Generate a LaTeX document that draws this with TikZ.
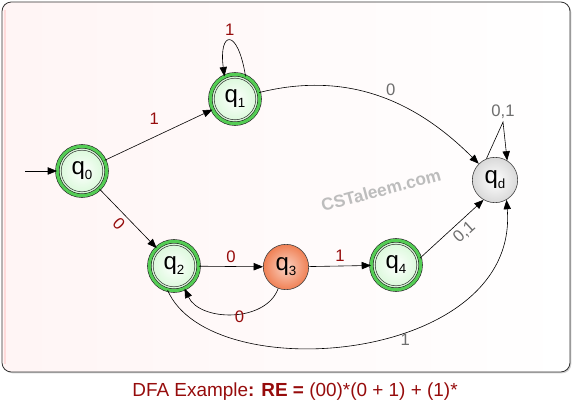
\documentclass[tikz,border=0pt]{standalone}
\usepackage{fontspec}
\setmainfont{Liberation Sans}
\usetikzlibrary{arrows.meta,shadows}

\definecolor{ringgreen}{RGB}{84,204,84}
\definecolor{fillgreen}{RGB}{214,248,214}
\definecolor{lblred}{RGB}{150,12,12}
\definecolor{lblgray}{RGB}{110,110,110}
\definecolor{deadorange}{RGB}{240,128,84}

\newcommand{\qname}[2]{q\raisebox{-0.35ex}{\fontsize{#2}{#2}\selectfont #1}}

\tikzset{
    accept/.style={circle, minimum size=37pt, inner sep=0pt,
        draw=black!85, line width=0.45pt, double=ringgreen, double distance=2.3pt,
        inner color=white, outer color=fillgreen,
        path picture={\draw[black!80, line width=0.4pt] (path picture bounding box.center) circle (15.6pt);}},
    plain/.style={circle, minimum size=34pt, inner sep=0pt, draw=black!75, line width=0.45pt,
        inner color=deadorange!35, outer color=deadorange},
    trap/.style={circle, minimum size=34pt, inner sep=0pt, draw=black!75, line width=0.45pt,
        inner color=white, outer color=black!15},
    lbl/.style={font=\fontsize{12.5}{12.5}\selectfont, text=lblred, inner sep=1pt},
    glbl/.style={font=\fontsize{12.5}{12.5}\selectfont, text=lblgray, inner sep=1pt},
    trans/.style={-{Triangle[length=7pt,width=5.5pt]}, line width=0.45pt}
}

\begin{document}
\begin{tikzpicture}[x=0.75pt,y=0.75pt, font=\fontsize{18}{18}\selectfont]
    \useasboundingbox (0,0) rectangle (573,409);

    % frame
    \draw[draw=black!80, line width=0.6pt, rounded corners=7, left color=red!4, right color=white,
        drop shadow={shadow xshift=1pt, shadow yshift=-1pt, opacity=0.35}] (2,37) rectangle (570,407);
    \fill[red!14] (3.5,45) rectangle (5.5,399);

    % watermark
    \node[rotate=15, text=black!26, font=\fontsize{13}{13}\selectfont\bfseries] (mark) at (381,219) {CSTaleem.com};

    % states
    \node[accept] (q0) at (82,238) {\qname{0}{10}};
    \node[accept] (q1) at (235,310) {\qname{1}{10}};
    \node[accept] (q2) at (174,143) {\qname{2}{10}};
    \node[plain] (q3) at (286,142) {\qname{3}{10}};
    \node[accept] (q4) at (396,144) {\qname{4}{10}};
    \node[trap] (qd) at (495,229) {\qname{d}{10}};

    \coordinate (start) at (25,238);
    \coordinate (dtop) at (503,287);

    % transitions
    \draw[trans] (start) -- (q0);
    \draw[trans] (q0) -- node[lbl, pos=0.46, above=8pt] {1} (q1);
    \draw[trans] (q1.65) .. controls +(-8,50) and +(-6,45) .. node[lbl, pos=0.5, above=3pt] {1} (q1.115);
    \draw[trans] (q1.15) to[out=14, in=135] node[glbl, pos=0.56, above=3pt] {0} (qd.135);
    \draw[trans] (q0) -- node[lbl, pos=0.47, sloped, below=2pt] {0} (q2);
    \draw[trans] (q2) -- node[lbl, above=2pt] {0} (q3);
    \draw[trans] (q3.250) to[out=-110, in=-65] node[lbl, pos=0.44, below=-3pt] {0} (q2.-65);
    \draw[trans] (q3) -- node[lbl, above=2pt] {1} (q4);
    \draw[trans] (q4.16) -- node[glbl, pos=0.58, sloped, below=2pt] {0,1} (qd.-120);
    \draw[trans] (qd.112) -- (dtop) node[glbl, above=1pt] {0,1} -- (qd.58);
    \draw[trans] (q2.255) .. controls (210,20) and (520,45) .. node[glbl, pos=0.6, below=1pt] {1} (qd.-60);

    % caption
    \node[text=lblred, font=\fontsize{14.2}{14.2}\selectfont] (caption) at (295,17)
        {DFA Example\textbf{: RE =} (00)*(0 + 1) + (1)*};
\end{tikzpicture}
\end{document}
